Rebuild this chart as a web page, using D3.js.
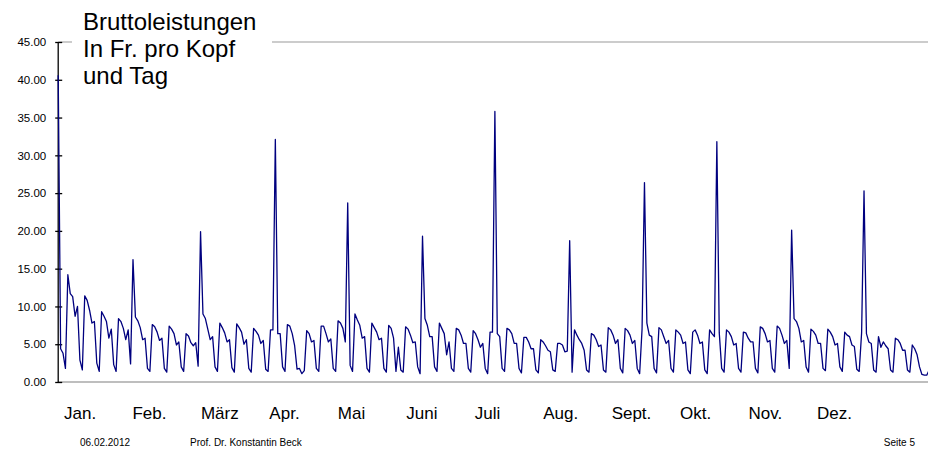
<!DOCTYPE html>
<html>
<head>
<meta charset="utf-8">
<script src="https://cdn.jsdelivr.net/npm/d3@7"></script>
<style>
  html, body { margin: 0; padding: 0; background: #fff; }
  svg { display: block; font-family: "Liberation Sans", Arial, sans-serif; }
</style>
</head>
<body>
<svg id="chart" width="928" height="455"></svg>
<script>
// ---- Data: daily gross benefits (Fr. per capita and day), 2009 ----
const jan = [40.6, 4.4, 3.8, 1.8, 14.2, 11.7, 11.3, 8.7, 10.0, 2.9, 1.6, 11.4, 10.8, 9.5, 7.8, 8.0, 2.5, 1.4, 9.3, 8.7, 8.0, 5.8, 7.0, 2.3, 1.4, 8.4, 8.0, 7.1, 5.6, 6.9, 2.4];
const feb = [16.2, 8.6, 8.1, 7.2, 5.6, 5.8, 1.8, 1.4, 7.6, 7.3, 6.6, 5.5, 5.8, 1.8, 1.3, 7.4, 7.0, 6.4, 4.9, 5.3, 2.0, 1.4, 6.4, 6.1, 5.2, 4.8, 5.2, 2.1];
const mar = [19.9, 9.0, 8.4, 7.0, 5.6, 6.0, 2.0, 1.4, 7.8, 7.2, 6.5, 5.3, 5.6, 1.9, 1.3, 7.7, 7.2, 6.6, 5.0, 5.6, 1.8, 1.3, 7.1, 6.7, 6.2, 5.1, 5.5, 1.7, 1.4, 6.9, 6.9];
const apr = [32.1, 6.4, 6.4, 2.0, 1.4, 7.6, 7.4, 6.4, 4.8, 1.7, 1.8, 1.1, 1.5, 6.8, 6.4, 5.3, 5.5, 1.8, 1.4, 7.4, 7.4, 6.4, 5.3, 5.7, 1.8, 1.4, 8.1, 7.8, 7.1, 5.3];
const may = [23.7, 2.2, 1.4, 9.0, 8.2, 7.5, 5.8, 6.0, 1.8, 1.3, 7.8, 7.2, 6.6, 5.6, 5.8, 1.8, 1.3, 7.5, 7.1, 5.8, 1.4, 4.6, 1.6, 1.3, 7.3, 7.0, 6.2, 5.2, 5.3, 2.0, 1.1];
const jun = [19.3, 8.4, 7.5, 6.0, 6.0, 2.0, 1.4, 7.8, 7.1, 6.4, 3.6, 5.3, 1.8, 1.4, 7.1, 6.9, 6.2, 5.1, 5.1, 1.8, 1.3, 6.8, 6.4, 5.6, 4.6, 5.1, 1.8, 1.1, 6.6, 6.6];
const jul = [35.8, 6.4, 6.0, 1.8, 1.4, 7.1, 6.9, 6.4, 5.1, 5.1, 1.8, 1.2, 5.9, 5.9, 5.3, 4.4, 4.4, 1.6, 1.2, 5.6, 5.3, 4.8, 4.2, 4.0, 1.6, 1.4, 5.1, 5.1, 4.9, 4.0, 4.1];
const aug = [18.7, 1.3, 6.9, 6.2, 5.6, 5.1, 4.2, 1.6, 1.3, 6.4, 6.2, 5.6, 4.7, 4.9, 1.6, 1.3, 7.2, 6.9, 6.2, 5.1, 5.6, 1.8, 1.2, 7.1, 6.8, 6.2, 5.1, 5.5, 1.8, 1.1, 7.0];
const sep = [26.4, 7.8, 6.2, 6.0, 1.8, 1.2, 7.2, 6.9, 6.0, 5.1, 5.5, 1.8, 1.3, 6.9, 6.6, 6.2, 5.1, 5.3, 1.6, 1.1, 6.6, 6.9, 6.2, 5.1, 5.3, 1.6, 1.1, 6.9, 6.4, 6.0];
const oct = [31.8, 6.5, 1.8, 1.3, 6.9, 6.6, 6.0, 4.9, 5.1, 1.8, 1.3, 6.6, 6.5, 5.8, 5.3, 5.3, 1.8, 1.2, 7.3, 7.1, 6.4, 5.3, 5.5, 1.8, 1.3, 7.4, 7.1, 6.2, 5.1, 5.5, 1.8];
const nov = [20.1, 8.4, 8.0, 7.1, 5.3, 5.5, 2.0, 1.3, 7.0, 6.7, 6.2, 5.1, 5.1, 1.8, 1.5, 7.0, 6.6, 6.0, 4.9, 5.1, 2.0, 1.4, 6.6, 6.2, 6.0, 4.9, 4.7, 1.7, 1.4, 6.5];
const dec = [25.3, 6.4, 5.3, 5.1, 1.6, 1.3, 6.0, 4.6, 5.3, 4.8, 4.4, 1.6, 1.3, 5.8, 5.6, 5.1, 4.2, 4.2, 1.6, 1.3, 4.9, 4.4, 3.6, 2.0, 1.0, 0.9, 0.9, 1.6];

const monthLabels = ["Jan.", "Feb.", "März", "Apr.", "Mai", "Juni", "Juli", "Aug.", "Sept.", "Okt.", "Nov.", "Dez."];
const yTicks = [0, 5, 10, 15, 20, 25, 30, 35, 40, 45];
const titleLines = ["Bruttoleistungen", "In Fr. pro Kopf", "und Tag"];
const footerDate = "06.02.2012";
const footerAuthor = "Prof. Dr. Konstantin Beck";
const footerPage = "Seite 5";

// ---- Build series ----
const monthly = [jan, feb, mar, apr, may, jun, jul, aug, sep, oct, nov, dec];
const yearStart = new Date(Date.UTC(2009, 0, 1));
const series = [];
monthly.forEach((vals, m) => {
  vals.forEach((v, d) => {
    series.push({ date: new Date(Date.UTC(2009, m, d + 1)), value: v });
  });
});

// ---- Layout ----
const svg = d3.select("#chart");
const plotLeft = 58.2, plotTop = 42, plotBottom = 382;

const x = d3.scaleUtc()
  .domain([yearStart, new Date(Date.UTC(2009, 11, 31))])
  .range([plotLeft, 936.4]);
const y = d3.scaleLinear().domain([0, 45]).range([plotBottom, plotTop]);

// top gridline (45) and bottom axis line
svg.append("line")
  .attr("x1", plotLeft).attr("x2", 928).attr("y1", y(45)).attr("y2", y(45))
  .attr("stroke", "#9a9a9a").attr("stroke-width", 1.2);
svg.append("line")
  .attr("x1", plotLeft).attr("x2", 928).attr("y1", y(0)).attr("y2", y(0))
  .attr("stroke", "#a8a8a8").attr("stroke-width", 1.5);

// title box (white background covers the gridline)
svg.append("rect")
  .attr("x", 72).attr("y", 0).attr("width", 200).attr("height", 100)
  .attr("fill", "#fff");
const title = svg.append("text")
  .attr("x", 83).attr("y", 30)
  .attr("font-size", 24).attr("fill", "#000");
titleLines.forEach((t, i) => {
  title.append("tspan").attr("x", 83).attr("dy", i === 0 ? 0 : 26.8).text(t);
});

// y axis
const yAxis = d3.axisLeft(y)
  .tickValues(yTicks)
  .tickFormat(d3.format(".2f"))
  .tickSize(3)
  .tickPadding(9);
const gy = svg.append("g")
  .attr("transform", `translate(${plotLeft},0)`)
  .call(yAxis);
gy.select(".domain").attr("stroke", "#000").attr("stroke-width", 1.3)
  .attr("d", `M0,${y(45)}V${y(0)}`);
gy.selectAll(".tick line").attr("x1", -3).attr("x2", 4)
  .attr("stroke", "#000").attr("stroke-width", 1.3);
gy.selectAll(".tick text")
  .attr("font-size", 11.5)
  .attr("font-family", "Liberation Sans, Arial, sans-serif")
  .attr("fill", "#000");

// data line
const line = d3.line()
  .x(d => x(d.date))
  .y(d => y(d.value));
svg.append("path")
  .datum(series)
  .attr("fill", "none")
  .attr("stroke", "#00007f")
  .attr("stroke-width", 1.3)
  .attr("stroke-linejoin", "round")
  .attr("d", line);

// month labels (left aligned, evenly spaced)
const mx = d3.scalePoint().domain(monthLabels).range([64, 817]);
svg.append("g").selectAll("text")
  .data(monthLabels)
  .join("text")
  .attr("x", d => mx(d))
  .attr("y", 419)
  .attr("text-anchor", "start")
  .attr("font-size", 17)
  .attr("fill", "#000")
  .text(d => d);

// footer
svg.append("text").attr("x", 80).attr("y", 446)
  .attr("font-size", 10).attr("fill", "#000").text(footerDate);
svg.append("text").attr("x", 190).attr("y", 446)
  .attr("font-size", 10).attr("fill", "#000").text(footerAuthor);
svg.append("text").attr("x", 915).attr("y", 446)
  .attr("text-anchor", "end")
  .attr("font-size", 10).attr("fill", "#000").text(footerPage);
</script>
</body>
</html>
